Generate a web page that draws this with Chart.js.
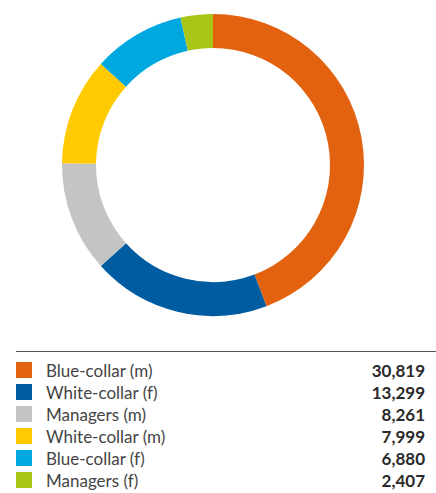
<!DOCTYPE html>
<html>
<head>
<meta charset="utf-8">
<script src="https://cdn.jsdelivr.net/npm/chart.js@4"></script>
<style>
  body { margin: 0; background: #fff; font-family: Lato, "Open Sans", sans-serif; }
  #wrap { width: 436px; height: 330px; position: relative; }
  #legend { position: absolute; left: 16px; top: 351px; width: 420px; border-top: 1px solid #555; padding-top: 7px; }
  .row { display: flex; align-items: center; height: 22px; }
  .box { width: 16px; height: 16px; margin-right: 14px; flex: none; }
  .lbl { flex: 1; font-size: 17px; color: #444; }
  .val { width: 100px; text-align: right; font-size: 17px; font-weight: bold; color: #2a2a2a; margin-right: 11px; }
</style>
</head>
<body>
<div id="wrap"><canvas id="donut"></canvas></div>
<div id="legend"></div>
<script>
const categories = ['Blue-collar (m)', 'White-collar (f)', 'Managers (m)', 'White-collar (m)', 'Blue-collar (f)', 'Managers (f)'];
const employees = [30819, 13299, 8261, 7999, 6880, 2407];
const colours = ['#e2620f', '#005ca0', '#c4c4c4', '#ffcb00', '#00a8e0', '#a8c617'];

const chart = new Chart(document.getElementById('donut'), {
  type: 'doughnut',
  data: {
    labels: categories,
    datasets: [{
      data: employees,
      backgroundColor: colours,
      borderWidth: 0
    }]
  },
  options: {
    responsive: true,
    maintainAspectRatio: false,
    animation: false,
    cutout: '77.5%',
    layout: { padding: { top: 14, bottom: 14, left: 0, right: 10 } },
    plugins: {
      legend: { display: false },
      tooltip: { enabled: false }
    }
  }
});

// legend list under the ring
const legend = document.getElementById('legend');
categories.forEach((name, i) => {
  const row = document.createElement('div');
  row.className = 'row';
  row.innerHTML = `<span class="box" style="background:${colours[i]}"></span>` +
    `<span class="lbl">${name}</span>` +
    `<span class="val">${employees[i].toLocaleString('en-US')}</span>`;
  legend.appendChild(row);
});
</script>
</body>
</html>
